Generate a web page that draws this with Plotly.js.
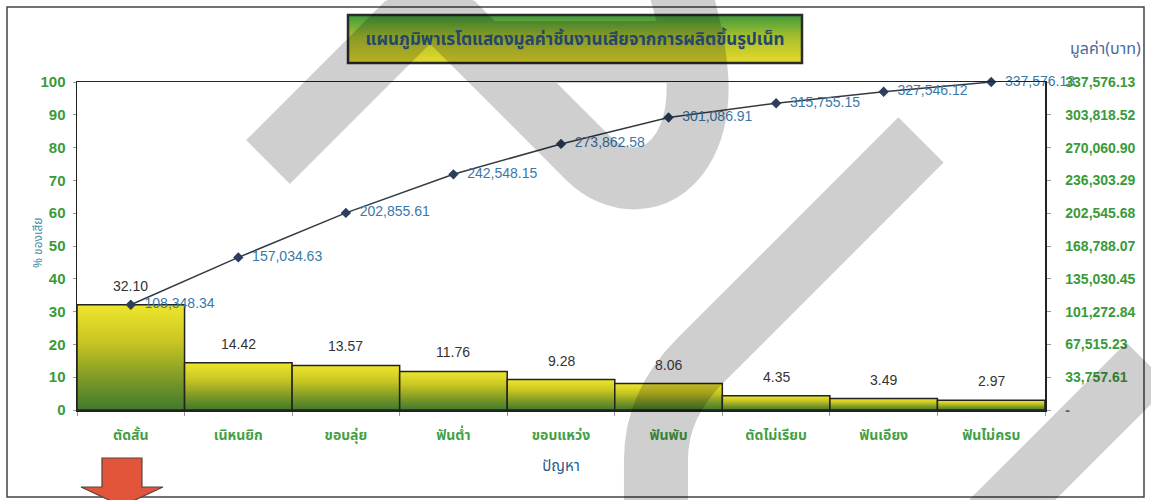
<!DOCTYPE html>
<html>
<head>
<meta charset="utf-8">
<script src="https://cdn.plot.ly/plotly-3.0.1.min.js"></script>
<style>
  html, body { margin: 0; padding: 0; background: #ffffff; }
  #chart { width: 1151px; height: 500px; }
</style>
</head>
<body>
<div id="chart"></div>
<script>
// Defect categories (problem types)
const categories = ['ตัดสั้น', 'เนิหนยิก', 'ขอบลุ่ย', 'ฟันต่ำ', 'ขอบแหว่ง', 'ฟันพับ', 'ตัดไม่เรียบ', 'ฟันเอียง', 'ฟันไม่ครบ'];
// Share of defects per category (%)
const percentDefect = [32.10, 14.42, 13.57, 11.76, 9.28, 8.06, 4.35, 3.49, 2.97];
// Cumulative value of defective pieces (baht)
const cumulativeBaht = [108348.34, 157034.63, 202855.61, 242548.15, 273862.58, 301086.91, 315755.15, 327546.12, 337576.13];
// Left axis ticks (%)
const percentTicks = [0, 10, 20, 30, 40, 50, 60, 70, 80, 90, 100];
// Right axis ticks (baht)
const bahtTicks = [0, 33757.61, 67515.23, 101272.84, 135030.45, 168788.07, 202545.68, 236303.29, 270060.90, 303818.52, 337576.13];
const bahtTickLabels = ['-', '33,757.61', '67,515.23', '101,272.84', '135,030.45', '168,788.07', '202,545.68', '236,303.29', '270,060.90', '303,818.52', '337,576.13'];

const titleText = 'แผนภูมิพาเรโตแสดงมูลค่าชิ้นงานเสียจากการผลิตขึ้นรูปเน็ท';

// Page geometry (pixels) for the decorative layer
const W = 1151, H = 500;
const M = { l: 77, r: 106, t: 82, b: 90 };
const PW = W - M.l - M.r, PH = H - M.t - M.b;
const px = x => (x - M.l) / PW;
const py = y => (H - M.b - y) / PH;
const pt = (x, y) => px(x).toFixed(4) + ',' + py(y).toFixed(4);
function pathOf(cmds) {
  return cmds.map(c => c[0] + ' ' + c.slice(1).reduce((a, v, i) => {
    if (i % 2 === 0) a.push(pt(v, c[i + 2]));
    return a;
  }, []).join(' ')).join(' ');
}

const sansFont = 'Liberation Sans, Arial, sans-serif';
const thaiFont = 'Noto Sans Thai, Loma, Garuda, Tlwg Typo, Noto Sans, sans-serif';
const green = '#3a9a3a';
const nbsp = '\u00a0\u00a0';
const veil = 'rgba(0,0,0,0.19)';

const fmt = v => v.toLocaleString('en-US', { minimumFractionDigits: 2, maximumFractionDigits: 2 });

const barTrace = {
  type: 'bar',
  x: categories,
  y: percentDefect,
  marker: { color: '#b8b822', line: { color: '#222222', width: 1.5 } },
  hoverinfo: 'x+y',
  showlegend: false
};

const lineTrace = {
  type: 'scatter',
  mode: 'lines+markers+text',
  x: categories,
  y: cumulativeBaht,
  yaxis: 'y2',
  text: cumulativeBaht.map(v => nbsp + fmt(v)),
  textposition: 'middle right',
  textfont: { family: sansFont, size: 14, color: '#3a78aa' },
  line: { color: '#333a44', width: 1.5 },
  marker: { symbol: 'diamond', size: 8, color: '#2c3e5c' },
  cliponaxis: false,
  showlegend: false
};

// Value labels above bars
const barLabels = categories.map((c, i) => ({
  x: c, y: percentDefect[i], xref: 'x', yref: 'y',
  text: percentDefect[i].toFixed(2),
  showarrow: false, yanchor: 'bottom', yshift: 9,
  font: { family: sansFont, size: 14, color: '#333333' }
}));

const shapes = [
  // outer frame
  { type: 'rect', xref: 'paper', yref: 'paper', x0: px(7), x1: px(1144), y0: py(7), y1: py(497),
    line: { color: '#444444', width: 1.5 }, fillcolor: 'rgba(0,0,0,0)', layer: 'below' },
  // title box
  { type: 'rect', xref: 'paper', yref: 'paper', x0: px(348), x1: px(802), y0: py(15), y1: py(63),
    line: { color: '#2b2b2b', width: 2.5 }, fillcolor: '#b8c62c', layer: 'below' },
  // red arrow below the first category
  { type: 'path', xref: 'paper', yref: 'paper', layer: 'above',
    path: pathOf([['M', 102, 458], ['L', 142, 458], ['L', 142, 487], ['L', 163, 487], ['L', 122, 506], ['L', 81, 487], ['L', 102, 487]]) + ' Z',
    fillcolor: '#e2553a', line: { color: '#5a4040', width: 1.2 } },
  // grey overlay strokes (one path so crossings are not darkened twice)
  { type: 'path', xref: 'paper', yref: 'paper', layer: 'above',
    path: pathOf([
      ['M', 268, 162], ['L', 500, -70],
      ['M', 395, -35], ['L', 588, 158], ['C', 615, 185, 658, 188, 682, 150], ['C', 706, 112, 702, 55, 672, -35],
      ['M', 470, 52], ['L', 690, 52]
    ]),
    line: { color: veil, width: 62 } },
  { type: 'path', xref: 'paper', yref: 'paper', layer: 'above',
    path: pathOf([['M', 921, 140], ['L', 700, 361], ['Q', 656, 405, 656, 460], ['L', 656, 540]]),
    line: { color: veil, width: 64 } },
  { type: 'path', xref: 'paper', yref: 'paper', layer: 'above',
    path: pathOf([['M', 1148, 364], ['L', 990, 522]]),
    line: { color: veil, width: 61 } }
];
const TITLE_BOX = 1;

const layout = {
  width: W, height: H,
  margin: M,
  paper_bgcolor: '#ffffff', plot_bgcolor: '#ffffff',
  bargap: 0,
  showlegend: false,
  title: {
    text: '<b>' + titleText + '</b>',
    xref: 'paper', x: px(575), xanchor: 'center',
    yref: 'container', y: 1 - 39 / H, yanchor: 'middle',
    font: { family: thaiFont, size: 17, color: '#24466a' }
  },
  xaxis: {
    type: 'category',
    showline: true, linecolor: '#222222', linewidth: 1.5, mirror: true,
    ticks: 'outside', ticklen: 4, tickcolor: '#999999', tickson: 'boundaries',
    showgrid: false, zeroline: false,
    ticklabelstandoff: 12,
    tickfont: { family: thaiFont, size: 14, color: '#44a044', weight: 'bold' },
    title: { text: 'ปัญหา', standoff: 15, font: { family: thaiFont, size: 15, color: '#2a5a8a' } }
  },
  yaxis: {
    range: [0, 100],
    tickvals: percentTicks,
    showline: true, linecolor: '#222222', linewidth: 1.5,
    ticks: 'outside', ticklen: 3, tickcolor: '#999999',
    showgrid: false, zeroline: false,
    ticklabelstandoff: 4,
    tickfont: { family: sansFont, size: 15, color: green, weight: 'bold' }
  },
  yaxis2: {
    overlaying: 'y', side: 'right',
    range: [0, 337576.13],
    tickvals: bahtTicks, ticktext: bahtTickLabels,
    showline: true, linecolor: '#222222', linewidth: 1.5,
    ticks: 'outside', ticklen: 4, tickcolor: '#999999',
    showgrid: false, zeroline: false,
    ticklabelstandoff: 12,
    tickfont: { family: sansFont, size: 14, color: green, weight: 'bold' }
  },
  annotations: barLabels.concat([
    // axis captions
    { xref: 'paper', yref: 'paper', x: px(38), y: py(243), xanchor: 'center', yanchor: 'middle',
      text: '% ของเสีย', textangle: -90, showarrow: false,
      font: { family: thaiFont, size: 12, color: '#4a8ea8' } },
    { xref: 'paper', yref: 'paper', x: px(1105), y: py(49), xanchor: 'center', yanchor: 'middle',
      text: 'มูลค่า(บาท)', showarrow: false,
      font: { family: thaiFont, size: 16, color: '#4a6a9a' } }
  ]),
  shapes: shapes
};

function addGradient(svg, id, stops) {
  const ns = 'http://www.w3.org/2000/svg';
  let defs = svg.querySelector('defs');
  if (!defs) { defs = document.createElementNS(ns, 'defs'); svg.insertBefore(defs, svg.firstChild); }
  const g = document.createElementNS(ns, 'linearGradient');
  g.setAttribute('id', id);
  g.setAttribute('x1', '0'); g.setAttribute('y1', '0');
  g.setAttribute('x2', '0'); g.setAttribute('y2', '1');
  stops.forEach(([o, c]) => {
    const s = document.createElementNS(ns, 'stop');
    s.setAttribute('offset', o); s.setAttribute('stop-color', c);
    g.appendChild(s);
  });
  defs.appendChild(g);
}

Plotly.newPlot('chart', [barTrace, lineTrace], layout, { displayModeBar: false, staticPlot: true }).then(gd => {
  const svg = gd.querySelector('svg.main-svg');
  addGradient(svg, 'barFill', [['0', '#eee62c'], ['0.35', '#c9c622'], ['0.7', '#7e9a26'], ['1', '#3f7a2c']]);
  addGradient(svg, 'titleFill', [['0', '#3e9a3c'], ['0.45', '#a6bf2e'], ['1', '#e6d92a']]);
  gd.querySelectorAll('.barlayer .point path').forEach(p => { p.style.fill = 'url(#barFill)'; });
  gd.querySelectorAll('.shapelayer path').forEach(p => {
    if (p.getAttribute('data-index') === String(TITLE_BOX)) p.style.fill = 'url(#titleFill)';
  });
});
</script>
</body>
</html>
